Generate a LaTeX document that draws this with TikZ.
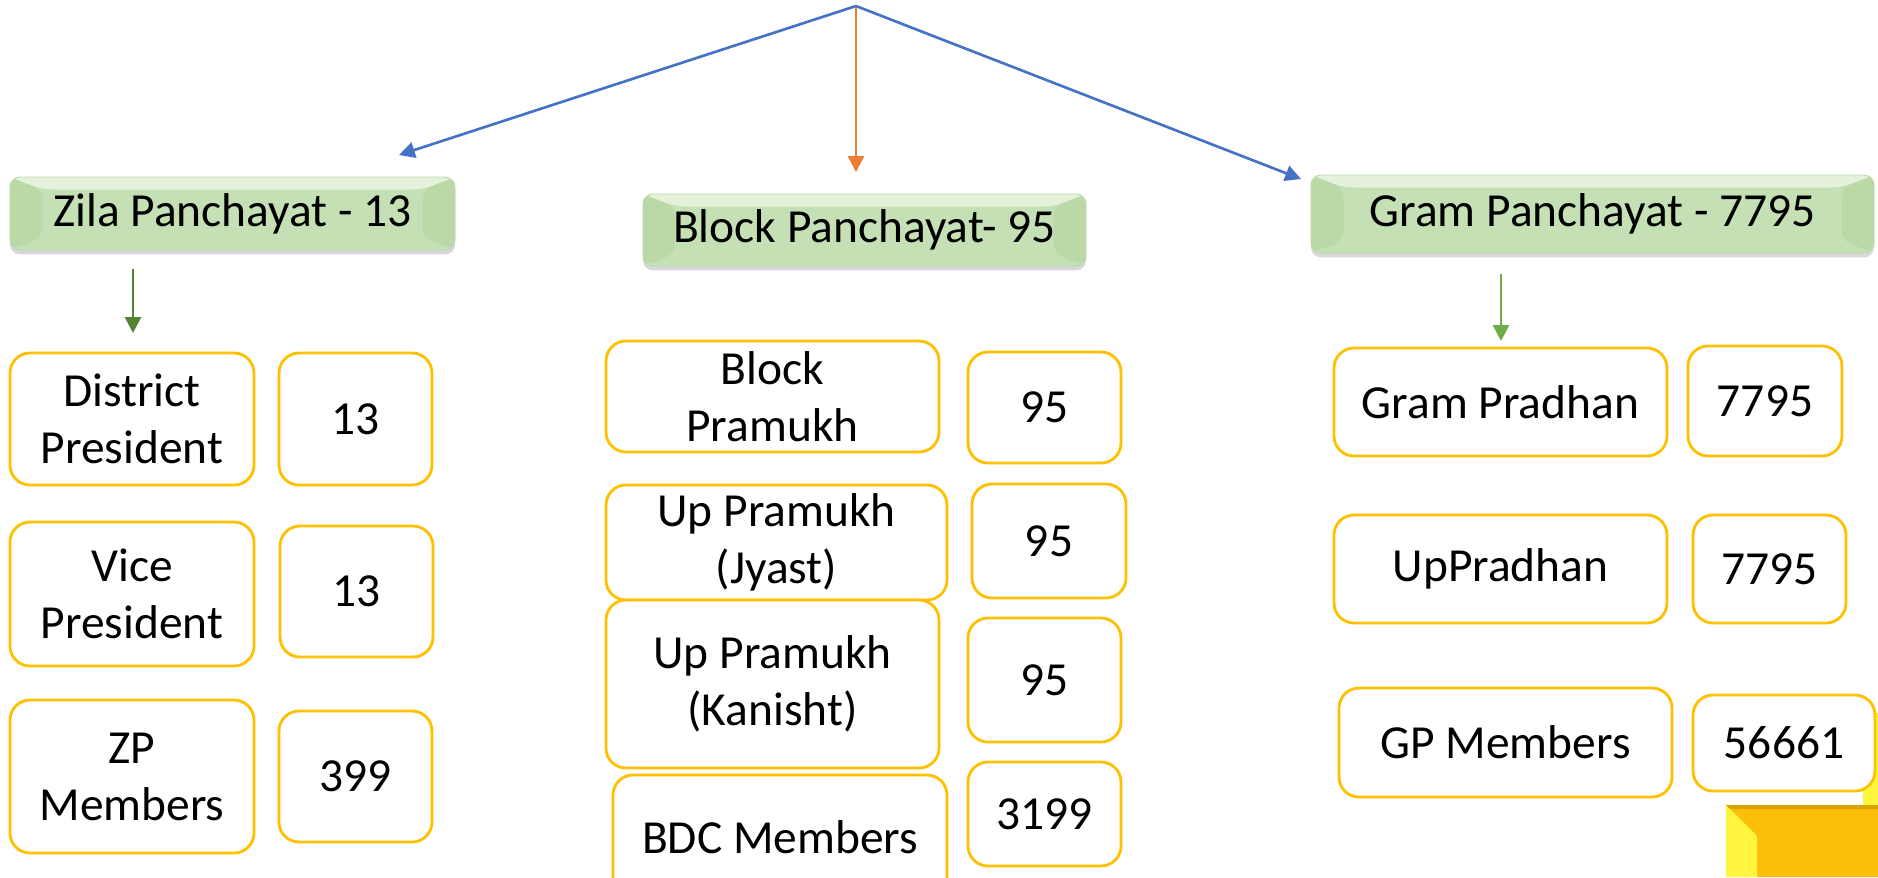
\documentclass[tikz,border=0pt]{standalone}
\usepackage{fontspec}
\setmainfont{Carlito}
\usetikzlibrary{arrows.meta,shadows}

\definecolor{boxgold}{HTML}{FFC000}
\definecolor{goldfill}{HTML}{FBBF0A}
\definecolor{goldlight}{HTML}{FFF53F}
\definecolor{hdrgreen}{HTML}{C5E0B4}
\definecolor{hdrlight}{HTML}{E4F2DC}
\definecolor{hdrdark}{HTML}{BBD9A7}
\definecolor{arrblue}{HTML}{4472C4}
\definecolor{arrorange}{HTML}{ED7D31}
\definecolor{arrgreen}{HTML}{548235}
\definecolor{arrlgreen}{HTML}{70AD47}

\begin{document}
\begin{tikzpicture}[x=0.02cm, y=-0.02cm,
    sz/.style 2 args={minimum width=#1*0.02cm, minimum height=#2*0.02cm},
    member/.style={draw=boxgold, line width=1.6pt, rounded corners=0.4cm, fill=white,
        align=center, inner sep=0pt, font=\fontsize{27}{32.4}\selectfont},
    header/.style={rounded corners=0.2cm, fill=hdrgreen, draw=hdrdark, line width=0.5pt,
        inner sep=0pt, font=\fontsize{27}{32}\selectfont,
        drop shadow={shadow xshift=0pt, shadow yshift=-2.5pt, opacity=0.3},
        path picture={
            \fill[hdrdark] (path picture bounding box.north west)
                -- ([xshift=0.65cm,yshift=-0.25cm]path picture bounding box.north west)
                -- ([xshift=0.65cm,yshift=0.25cm]path picture bounding box.south west)
                -- (path picture bounding box.south west) -- cycle;
            \fill[hdrdark] (path picture bounding box.north east)
                -- ([xshift=-0.65cm,yshift=-0.25cm]path picture bounding box.north east)
                -- ([xshift=-0.65cm,yshift=0.25cm]path picture bounding box.south east)
                -- (path picture bounding box.south east) -- cycle;
            \fill[hdrlight] (path picture bounding box.north west)
                -- (path picture bounding box.north east)
                -- ([xshift=-0.65cm,yshift=-0.25cm]path picture bounding box.north east)
                -- ([xshift=0.65cm,yshift=-0.25cm]path picture bounding box.north west) -- cycle;
        }},
    link/.style={line width=1.5pt, -{Triangle[length=9pt,width=9pt]}}]

    \path[fill=white, use as bounding box] (0,0) rectangle (1878,877);

    % gold shapes, bottom right
    \fill[goldlight] (1863,713) rectangle (1878,877);
    \fill[goldfill] (1726,805) rectangle (1878,877);
    \fill[goldlight] (1726,805) -- (1757,836) -- (1757,877) -- (1726,877) -- cycle;
    \fill[boxgold!85!black] (1726,805) -- (1878,805) -- (1878,809) -- (1730,809) -- cycle;

    % headers
    \node[header, sz={445}{73}] (zila) at (232.5,213.5) {Zila Panchayat - 13};
    \node[header, sz={443}{72}] (block) at (864.5,230) {Block Panchayat- 95};
    \node[header, sz={563}{78}] (gram) at (1592.5,214) {Gram Panchayat - 7795};

    % top arrows
    \coordinate (top) at (856,6);
    \coordinate (zilatip) at (399,155);
    \coordinate (blocktip) at (856,172);
    \coordinate (gramtip) at (1301,179);
    \draw[link, arrblue] (top) -- (zilatip);
    \draw[link, arrorange] (top) -- (blocktip);
    \draw[link, arrblue] (top) -- (gramtip);

    \coordinate (zilafrom) at (133,269);
    \coordinate (zilato) at (133,333);
    \coordinate (gramfrom) at (1501,274);
    \coordinate (gramto) at (1501,341);
    \draw[link, arrgreen] (zilafrom) -- (zilato);
    \draw[link, arrlgreen] (gramfrom) -- (gramto);

    % zila panchayat
    \node[member, sz={244}{132}] (dp) at (132,419) {District\\President};
    \node[member, sz={153}{132}] (dpn) at (355.5,419) {13};
    \node[member, sz={244}{144}] (vp) at (132,594) {Vice\\President};
    \node[member, sz={153}{131}] (vpn) at (356.5,591.5) {13};
    \node[member, sz={244}{153}] (zp) at (132,776.5) {ZP\\Members};
    \node[member, sz={153}{131}] (zpn) at (355.5,776.5) {399};

    % block panchayat
    \node[member, sz={333}{111}] (bp) at (772.5,396.5) {Block\\Pramukh};
    \node[member, sz={153}{111}] (bpn) at (1044.5,407.5) {95};
    \node[member, sz={341}{115}] (uj) at (776.5,542.5) {Up Pramukh\\(Jyast)};
    \node[member, sz={154}{114}] (ujn) at (1049,541) {95};
    \node[member, sz={333}{168}] (uk) at (772.5,684) {Up Pramukh\\(Kanisht)};
    \node[member, sz={153}{124}] (ukn) at (1044.5,680) {95};
    \node[member, sz={334}{125}] (bdc) at (780,837.5) {BDC Members};
    \node[member, sz={153}{104}] (bdcn) at (1044.5,814) {3199};

    % gram panchayat
    \node[member, sz={333}{108}] (gp) at (1500.5,402) {Gram Pradhan};
    \node[member, sz={154}{110}] (gpn) at (1765,401) {7795};
    \node[member, sz={333}{108}] (up) at (1500.5,569) {UpPradhan};
    \node[member, sz={153}{108}] (upn) at (1769.5,569) {7795};
    \node[member, sz={333}{109}] (gm) at (1505.5,742.5) {GP Members};
    \node[member, sz={182}{96}] (gmn) at (1784,743) {56661};
\end{tikzpicture}
\end{document}
